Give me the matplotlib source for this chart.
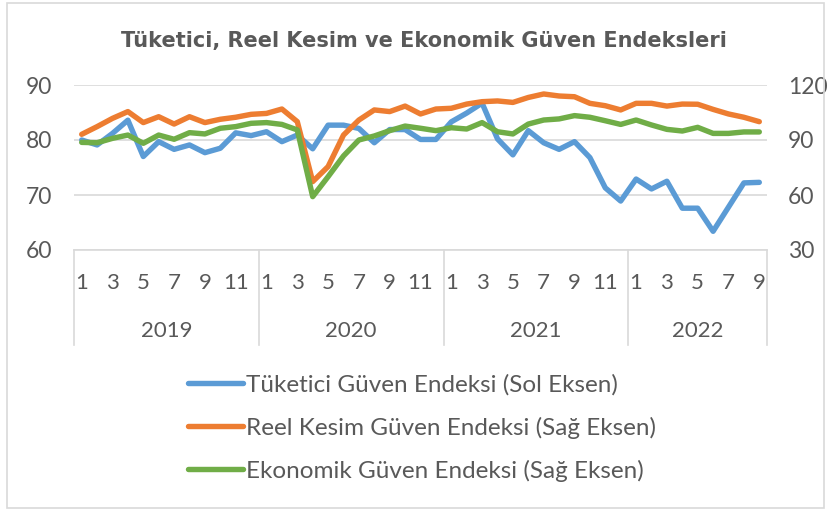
import numpy as np
import matplotlib
matplotlib.use("Agg")
import matplotlib.pyplot as plt
from matplotlib.patches import Rectangle
import matplotlib.transforms as mtransforms

plt.rcParams['font.family'] = ['Lato', 'DejaVu Sans']

# aylik veriler, 2019-01 .. 2022-09
years = ['2019', '2020', '2021', '2022']
months_per_year = [12, 12, 12, 9]

tuketici = [80.0, 79.1, 81.2, 83.6, 77.0, 79.7, 78.3, 79.1, 77.7, 78.5, 81.3, 80.8,
            81.5, 79.7, 80.9, 78.4, 82.7, 82.7, 82.1, 79.5, 81.9, 81.9, 80.1, 80.1,
            83.3, 84.9, 86.7, 80.2, 77.3, 81.7, 79.5, 78.3, 79.7, 76.8, 71.3, 68.9,
            72.9, 71.1, 72.5, 67.6, 67.6, 63.4, 67.8, 72.2, 72.3]

reel_kesim = [93.1, 97.3, 101.8, 105.5, 99.5, 102.7, 98.7, 102.7, 99.5, 101.3, 102.4, 104.0,
              104.5, 106.9, 100.0, 67.3, 75.5, 92.7, 100.9, 106.4, 105.5, 108.5, 104.2, 106.9,
              107.3, 109.6, 110.9, 111.3, 110.5, 113.2, 115.1, 114.0, 113.6, 110.0, 108.7, 106.4,
              110.0, 110.0, 108.5, 109.6, 109.5, 106.7, 104.2, 102.4, 100.0]

ekonomik = [88.7, 88.5, 90.9, 92.7, 88.2, 92.7, 90.4, 94.0, 93.3, 96.4, 97.3, 99.1,
            99.5, 98.5, 95.5, 59.1, 70.0, 81.3, 90.0, 92.2, 95.1, 97.6, 96.4, 95.1,
            96.7, 96.0, 99.5, 94.5, 93.3, 98.7, 100.9, 101.5, 103.3, 102.4, 100.5, 98.5,
            100.9, 98.2, 95.8, 94.9, 96.9, 93.6, 93.6, 94.4, 94.4]

blue = '#5B9BD5'
orange = '#ED7D31'
green = '#70AD47'
txt = '#595959'
grid = '#D9D9D9'

n = len(tuketici)
x = np.arange(n)

W, H = 827, 509
fig = plt.figure(figsize=(W / 100, H / 100), dpi=100)

# dis cerceve
fig.patches.append(Rectangle((7 / W, 1 / H), (824 - 7) / W, (506 - 1) / H,
                             transform=fig.transFigure, fill=False,
                             edgecolor=grid, linewidth=1.2))

ax = fig.add_axes([74 / W, 1 - 250 / H, (767 - 74) / W, 165 / H])
ax2 = ax.twinx()

l1, = ax.plot(x, tuketici, color=blue, lw=3.9, solid_capstyle='round',
              label='Tüketici Güven Endeksi (Sol Eksen)')
l2, = ax2.plot(x, reel_kesim, color=orange, lw=3.9, solid_capstyle='round',
               label='Reel Kesim Güven Endeksi (Sağ Eksen)')
l3, = ax2.plot(x, ekonomik, color=green, lw=3.9, solid_capstyle='round',
               label='Ekonomik Güven Endeksi (Sağ Eksen)')

ax.set_xlim(-0.5, n - 0.5)
ax.set_ylim(60, 90)
ax2.set_ylim(30, 120)
ax.set_yticks([60, 70, 80, 90])
ax2.set_yticks([30, 60, 90, 120])
ax.yaxis.grid(True, color=grid, lw=1.2)
ax.set_axisbelow(True)

for a in (ax, ax2):
    for s in a.spines.values():
        s.set_visible(False)
    a.tick_params(axis='y', length=0, labelsize=16.5, labelcolor=txt, pad=16)
ax2.tick_params(axis='y', pad=15)
ax.spines['bottom'].set_visible(True)
ax.spines['bottom'].set_color(grid)
ax.spines['bottom'].set_linewidth(1.2)
ax.set_xticks([])

# iki seviyeli kategori ekseni
trans = mtransforms.blended_transform_factory(ax.transData, ax.transAxes)
bounds = np.concatenate([[0], np.cumsum(months_per_year)]) - 0.5
for b in bounds:
    ax.plot([b, b], [0, -0.576], color=grid, lw=1.2, transform=trans, clip_on=False)
i = 0
for yr, m in zip(years, months_per_year):
    for k in range(m):
        if k % 2 == 0:
            ax.text(i + k, -0.2, str(k + 1), transform=trans, ha='center', va='center',
                    fontsize=16, color=txt)
    ax.text(i + (m - 1) / 2, -0.49, yr, transform=trans, ha='center', va='center',
            fontsize=16, color=txt)
    i += m

fig.text(424 / W, 1 - 41 / H, 'Tüketici, Reel Kesim ve Ekonomik Güven Endeksleri',
         ha='center', va='center', fontsize=15, fontweight='bold', color=txt,
         family='DejaVu Sans')

leg = fig.legend(handles=[l1, l2, l3], loc='upper left',
                 bbox_to_anchor=(188 / W, 1 - 374 / H), frameon=False,
                 fontsize=17.5, handlelength=2.26, handletextpad=0.12,
                 labelspacing=0.86, borderpad=0, borderaxespad=0)
for t in leg.get_texts():
    t.set_color(txt)

fig.savefig('out.png', dpi=100)
